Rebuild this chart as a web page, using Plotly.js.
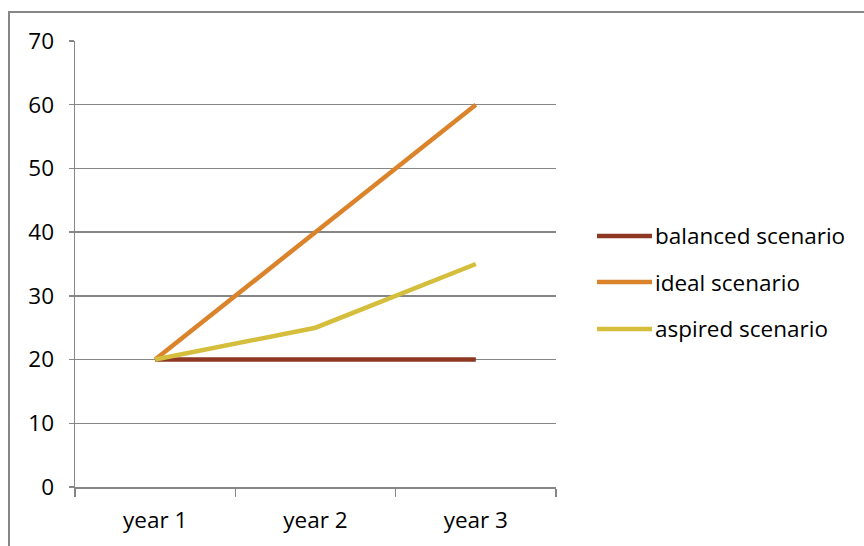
<!DOCTYPE html>
<html>
<head>
<meta charset="utf-8">
<script src="https://cdn.plot.ly/plotly-3.0.1.min.js"></script>
<style>
html,body{margin:0;padding:0;background:#fff;}
#wrap{position:relative;width:864px;height:546px;overflow:hidden;}
#frame{position:absolute;left:8px;top:11px;width:900px;height:600px;border:2px solid #868686;box-sizing:border-box;pointer-events:none;}
#chart{position:absolute;left:0;top:0;width:864px;height:546px;}
</style>
</head>
<body>
<div id="wrap"><div id="chart"></div><div id="frame"></div></div>
<script>
const categories = ["year 1", "year 2", "year 3"];
const seriesNames = ["balanced scenario", "ideal scenario", "aspired scenario"];
const balanced = [20, 20, 20];
const ideal = [20, 40, 60];
const aspired = [20, 25, 35];
const colors = ["rgb(142,56,35)", "rgb(219,131,43)", "rgb(212,190,60)"];
const yTicks = [0, 10, 20, 30, 40, 50, 60, 70];

const values = [balanced, ideal, aspired];
const traces = values.map((v, i) => ({
  type: "scatter", mode: "lines", x: categories, y: v, name: seriesNames[i],
  line: {color: colors[i], width: 4.5}, hoverinfo: "skip", showlegend: false
}));

// legend drawn with shapes + annotations (paper coordinates)
const legendRowsY = [0.5628, 0.4596, 0.3543];
const shapes = seriesNames.map((n, i) => ({
  type: "line", xref: "paper", yref: "paper",
  x0: 1.0852, x1: 1.1996, y0: legendRowsY[i], y1: legendRowsY[i],
  line: {color: colors[i], width: 4.5}
}));
const font = {family: "Open Sans, Noto Sans, sans-serif", size: 22.5, color: "#000"};
const annotations = seriesNames.map((n, i) => ({
  text: n, xref: "paper", yref: "paper", x: 1.2017, y: legendRowsY[i],
  xanchor: "left", yanchor: "middle", showarrow: false, font: font
}));

const layout = {
  width: 864, height: 546,
  margin: {l: 75, r: 308, t: 41, b: 59},
  paper_bgcolor: "#fff", plot_bgcolor: "#fff",
  font: font,
  showlegend: false,
  shapes: shapes,
  annotations: annotations,
  xaxis: {
    type: "category", range: [-0.5, 2.5], tickson: "boundaries",
    ticks: "outside", ticklen: 8, tickcolor: "#868686", tickwidth: 1.5,
    showline: true, linecolor: "#868686", linewidth: 1.5, showgrid: false,
    zeroline: false, ticklabelstandoff: 12, fixedrange: true
  },
  yaxis: {
    range: [0, 70], tickvals: yTicks, ticktext: yTicks.map(String),
    ticks: "outside", ticklen: 5, tickcolor: "#868686", tickwidth: 1.5,
    showgrid: true, gridcolor: "#868686", gridwidth: 1.5,
    showline: true, linecolor: "#868686", linewidth: 1.5, zeroline: false,
    ticklabelstandoff: 10, fixedrange: true
  }
};
Plotly.newPlot("chart", traces, layout, {displayModeBar: false, staticPlot: true});
</script>
</body>
</html>
